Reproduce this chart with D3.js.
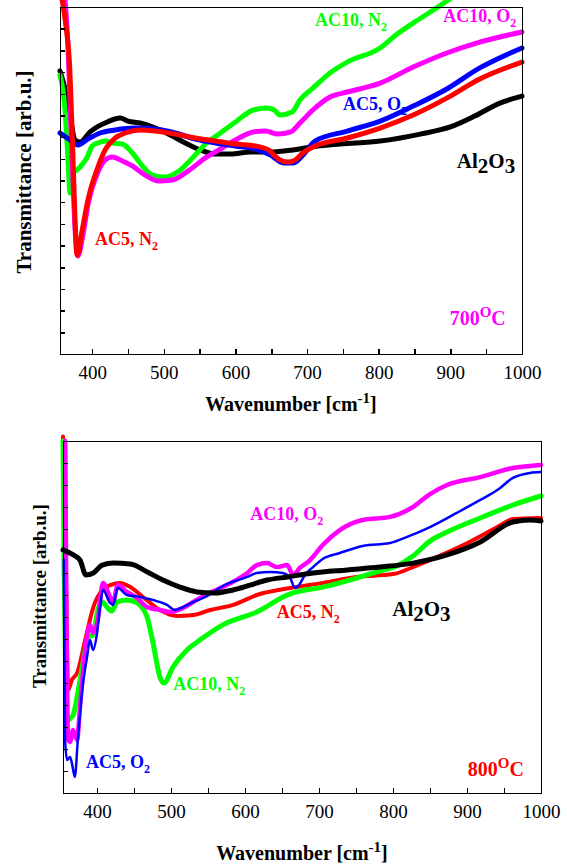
<!DOCTYPE html>
<html>
<head>
<meta charset="utf-8">
<style>
  body { margin: 0; background: #fff; }
  svg { display: block; }
  .axis path, .axis line { fill: none; stroke: #000; stroke-width: 1.5px; shape-rendering: crispEdges; }
  .axis text { font-family: "Liberation Serif", "DejaVu Serif", serif; font-size: 19px; fill: #000; }
  .lab { font-family: "Liberation Serif", serif; font-weight: bold; }
  .curve { fill: none; stroke-linejoin: round; stroke-linecap: round; }
</style>
</head>
<body>
<script src="https://cdnjs.cloudflare.com/ajax/libs/d3/7.8.5/d3.min.js"></script>
<script>
// x: wavenumber [cm-1], y: transmittance in tick units (0..16, arb.u.)

// ---- 700 C panel ----
var t700_Al2O3 = [[355,13.05],[366,11.71],[376,9.87],[383,9.77],[397,10.24],[407,10.47],[421,10.70],[439,10.88],[450,10.74],[467,10.65],[488,10.42],[509,10.10],[530,9.73],[551,9.41],[572,9.22],[593,9.22],[621,9.31],[649,9.31],[680,9.41],[704,9.54],[746,9.68],[802,9.82],[858,10.14],[900,10.47],[934,10.97],[969,11.57],[1000,11.89]];
var t700_AC5_O2 = [[355,10.19],[369,9.87],[380,9.64],[394,9.91],[411,10.19],[432,10.33],[460,10.42],[488,10.37],[516,10.19],[544,9.91],[572,9.73],[600,9.59],[628,9.45],[649,9.17],[667,8.81],[681,8.81],[694,9.17],[711,9.82],[756,10.28],[802,10.74],[848,11.43],[895,12.22],[941,13.19],[1000,14.11]];
var t700_AC5_N2 = [[358,16.32],[364,14.94],[368,13.55],[372,10.19],[376,6.18],[379,4.56],[386,5.72],[394,7.10],[408,8.62],[418,9.41],[432,9.96],[446,10.19],[467,10.33],[488,10.28],[516,10.14],[544,9.96],[572,9.82],[600,9.68],[628,9.59],[646,9.41],[660,8.99],[673,8.85],[683,8.94],[694,9.27],[711,9.59],[756,9.96],[802,10.42],[848,11.02],[895,11.80],[941,12.68],[1000,13.46]];
var t700_AC10_N2 = [[355,12.86],[362,11.25],[366,9.08],[369,7.42],[372,8.25],[383,8.62],[393,9.08],[400,9.59],[408,9.73],[418,9.82],[428,9.73],[442,9.68],[456,9.27],[470,8.67],[484,8.25],[502,8.16],[521,8.44],[540,9.04],[558,9.68],[579,10.19],[600,10.70],[625,11.25],[644,11.34],[654,11.25],[662,11.02],[679,11.16],[690,11.71],[708,12.26],[732,12.96],[756,13.46],[802,14.11],[824,14.71],[848,15.26],[872,15.77],[893,16.23],[928,17.0],[1000,18.4]];
var t700_AC10_O2 = [[362,16.32],[365,14.94],[369,11.71],[373,8.02],[378,4.79],[380,4.52],[387,5.49],[394,6.87],[408,8.39],[418,8.94],[428,9.08],[442,8.90],[456,8.67],[474,8.25],[492,7.98],[512,8.02],[534,8.44],[558,9.04],[579,9.45],[600,9.87],[625,10.24],[642,10.28],[659,10.14],[677,10.24],[690,10.65],[708,11.25],[732,11.85],[756,12.08],[802,12.49],[848,13.23],[895,13.88],[941,14.38],[1000,14.85]];

// ---- 800 C panel ----
var t800_Al2O3 = [[354,11.05],[368,10.82],[377,10.59],[385,9.91],[395,10.0],[407,10.36],[422,10.45],[445,10.41],[468,10.05],[489,9.68],[512,9.36],[535,9.14],[559,9.09],[584,9.23],[607,9.45],[630,9.68],[657,9.82],[692,10.0],[738,10.14],[782,10.27],[827,10.45],[873,10.82],[918,11.41],[962,12.32],[985,12.41],[1000,12.36]];
var t800_AC5_N2 = [[354,16.2],[355.4,14.23],[358,9.68],[361,4.68],[366,5.14],[373,5.45],[384,6.95],[395,8.45],[407,9.23],[418,9.45],[431,9.55],[445,9.36],[462,8.91],[485,8.32],[508,8.05],[530,8.09],[553,8.32],[584,8.55],[616,9.0],[661,9.32],[705,9.55],[751,9.82],[800,9.95],[827,10.27],[850,10.59],[895,11.27],[941,12.09],[962,12.45],[1000,12.5]];
var t800_AC10_N2 = [[354,16.0],[355.4,10.59],[358,4.23],[359.5,3.32],[367.6,3.55],[374,4.55],[381,5.91],[388,7.09],[394.6,7.18],[401,8.32],[407,8.68],[413.5,8.45],[420,8.27],[427,8.68],[440.5,8.77],[454,8.64],[467.6,8.0],[475.7,6.82],[485,5.27],[490.5,5.0],[502.7,5.73],[521.6,6.5],[539,6.95],[570,7.64],[616,8.23],[661,9.05],[670,9.14],[705,9.36],[751,9.77],[782,10.09],[805,10.32],[827,10.77],[850,11.45],[873,11.86],[918,12.5],[962,13.09],[1000,13.5]];
var t800_AC10_O2 = [[357,16.0],[358,11.05],[359.5,5.14],[361,2.41],[363.5,2.32],[367.6,2.86],[373,2.41],[377,3.91],[384,6.5],[390.5,7.64],[394.6,7.27],[401,7.86],[408,9.55],[417.6,8.91],[421.6,8.68],[428,9.45],[440.5,9.14],[454,8.86],[467.6,8.45],[485,8.32],[498.6,8.23],[516,8.41],[530,8.68],[548.6,9.05],[570,9.36],[603,10.0],[616,10.36],[630,10.45],[643,10.27],[657,10.36],[665,9.91],[674,10.23],[688,10.59],[705,11.27],[728,11.95],[759,12.41],[796,12.55],[827,13.0],[850,13.59],[873,14.0],[918,14.36],[962,14.77],[1000,14.91]];
var t800_AC5_O2 = [[355,10.6],[356.8,2.41],[359.5,1.5],[363.5,1.64],[366,1.36],[370,0.73],[374,2.41],[380,4.68],[386.5,6.18],[390.5,6.95],[394.6,6.5],[400,7.27],[404,8.45],[408,9.23],[417.6,8.64],[421.6,8.55],[428,9.32],[440.5,9.0],[458,8.91],[475.7,8.77],[494.6,8.55],[505,8.32],[516,8.45],[530,8.68],[548.6,8.95],[570,9.41],[603,9.82],[616,10.0],[634,10.05],[651,10.0],[661,9.77],[667.6,9.32],[673,9.45],[681,9.91],[692,10.27],[705,10.64],[728,10.91],[759,11.23],[796,11.36],[819,11.64],[850,12.09],[886,12.73],[918,13.32],[941,13.77],[962,14.32],[985,14.55],[1000,14.59]];

var panels = [
  {
    box: {left: 60, right: 522, top: 7, bottom: 354}, xMin: 355,
    xLabelY: 411, yLabelX: 31, yLabelY: 172, yLabelSize: 21,
    series: [
      {data: t700_Al2O3, color: "#000000", w: 5},
      {data: t700_AC10_N2, color: "#00ff00", w: 5},
      {data: t700_AC10_O2, color: "#ff00ff", w: 5},
      {data: t700_AC5_O2, color: "#0000ff", w: 5},
      {data: t700_AC5_N2, color: "#ff0000", w: 5}
    ],
    labels: [
      {t: "AC10, N", sub: "2", x: 711, y: 15.12, color: "#00ff00"},
      {t: "AC10, O", sub: "2", x: 890, y: 15.31, color: "#ff00ff"},
      {t: "AC5, O", sub: "2", x: 750, y: 11.25, color: "#0000ff"},
      {t: "AC5, N", sub: "2", x: 404, y: 5.03, color: "#ff0000"},
      {al: true, x: 909, y: 8.58, color: "#000000"},
      {temp: "700", x: 899, y: 1.34, color: "#ff00ff"}
    ]
  },
  {
    box: {left: 63, right: 541, top: 441, bottom: 793}, xMin: 354,
    xLabelY: 860, yLabelX: 46, yLabelY: 596, yLabelSize: 19,
    series: [
      {data: t800_AC5_N2, color: "#ff0000", w: 4},
      {data: t800_AC10_N2, color: "#00ff00", w: 5},
      {data: t800_AC10_O2, color: "#ff00ff", w: 4.5},
      {data: t800_AC5_O2, color: "#0000ff", w: 2.5},
      {data: t800_Al2O3, color: "#000000", w: 5}
    ],
    labels: [
      {t: "AC10, O", sub: "2", x: 607, y: 12.41, color: "#ff00ff"},
      {t: "AC5, N", sub: "2", x: 643, y: 7.95, color: "#ff0000"},
      {t: "AC10, N", sub: "2", x: 503, y: 4.68, color: "#00ff00"},
      {t: "AC5, O", sub: "2", x: 385, y: 1.14, color: "#0000ff"},
      {al: true, x: 799, y: 8.05, color: "#000000"},
      {temp: "800", x: 901, y: 0.77, color: "#ff0000"}
    ]
  }
];

var svg = d3.select("body").append("svg")
  .attr("width", 567)
  .attr("height", 867);

panels.forEach(function(p) {
  var b = p.box;
  var x = d3.scaleLinear().domain([p.xMin, 1000]).range([b.left, b.right]);
  var y = d3.scaleLinear().domain([0, 16]).range([b.bottom, b.top]);

  var line = d3.line()
    .x(function(d) { return x(d[0]); })
    .y(function(d) { return y(d[1]); })
    .curve(d3.curveMonotoneX);

  // curves
  p.series.forEach(function(s) {
    svg.append("path")
      .datum(s.data)
      .attr("class", "curve")
      .attr("stroke", s.color)
      .attr("stroke-width", s.w)
      .attr("d", line);
  });

  // frame
  svg.append("g").attr("class", "axis")
    .attr("transform", "translate(0," + b.top + ")")
    .call(d3.axisTop(x).tickValues([]).tickSizeOuter(0));
  svg.append("g").attr("class", "axis")
    .attr("transform", "translate(" + b.right + ",0)")
    .call(d3.axisRight(y).tickValues([]).tickSizeOuter(0));

  // bottom axis, inward ticks
  var xAxis = svg.append("g").attr("class", "axis")
    .attr("transform", "translate(0," + b.bottom + ")")
    .call(d3.axisBottom(x).tickValues(d3.range(400, 1001, 50))
      .tickSizeInner(-5).tickSizeOuter(0).tickPadding(12)
      .tickFormat(function(d) { return d % 100 === 0 ? d : ""; }));
  xAxis.selectAll("text").attr("dy", "0.71em");

  // left axis, inward ticks, no labels
  svg.append("g").attr("class", "axis")
    .attr("transform", "translate(" + b.left + ",0)")
    .call(d3.axisLeft(y).tickValues(d3.range(0, 17, 1))
      .tickSizeInner(-5).tickSizeOuter(0).tickFormat(""));

  // axis titles
  var xt = svg.append("text").attr("class", "lab")
    .attr("x", (b.left + b.right) / 2).attr("y", p.xLabelY)
    .attr("text-anchor", "middle").attr("font-size", 20);
  xt.append("tspan").text("Wavenumber [cm");
  xt.append("tspan").attr("dy", -8).attr("font-size", 15).text("-1");
  xt.append("tspan").attr("dy", 8).text("]");

  svg.append("text").attr("class", "lab")
    .attr("transform", "translate(" + p.yLabelX + "," + p.yLabelY + ") rotate(-90)")
    .attr("text-anchor", "middle").attr("font-size", p.yLabelSize)
    .text("Transmittance [arb.u.]");

  // series labels
  p.labels.forEach(function(l) {
    var t = svg.append("text").attr("class", "lab")
      .attr("x", x(l.x)).attr("y", y(l.y))
      .attr("fill", l.color).attr("font-size", 18);
    if (l.al) {
      t.attr("font-size", 21);
      t.append("tspan").text("Al");
      t.append("tspan").attr("dy", 5).text("2");
      t.append("tspan").attr("dy", -5).text("O");
      t.append("tspan").attr("dy", 5).text("3");
    } else if (l.temp) {
      t.attr("font-size", 20);
      t.append("tspan").text(l.temp);
      t.append("tspan").attr("dy", -8).attr("font-size", 15).text("O");
      t.append("tspan").attr("dy", 8).text("C");
    } else {
      t.append("tspan").text(l.t);
      t.append("tspan").attr("dy", 5).attr("font-size", 12).text(l.sub);
    }
  });
});
</script>
</body>
</html>
